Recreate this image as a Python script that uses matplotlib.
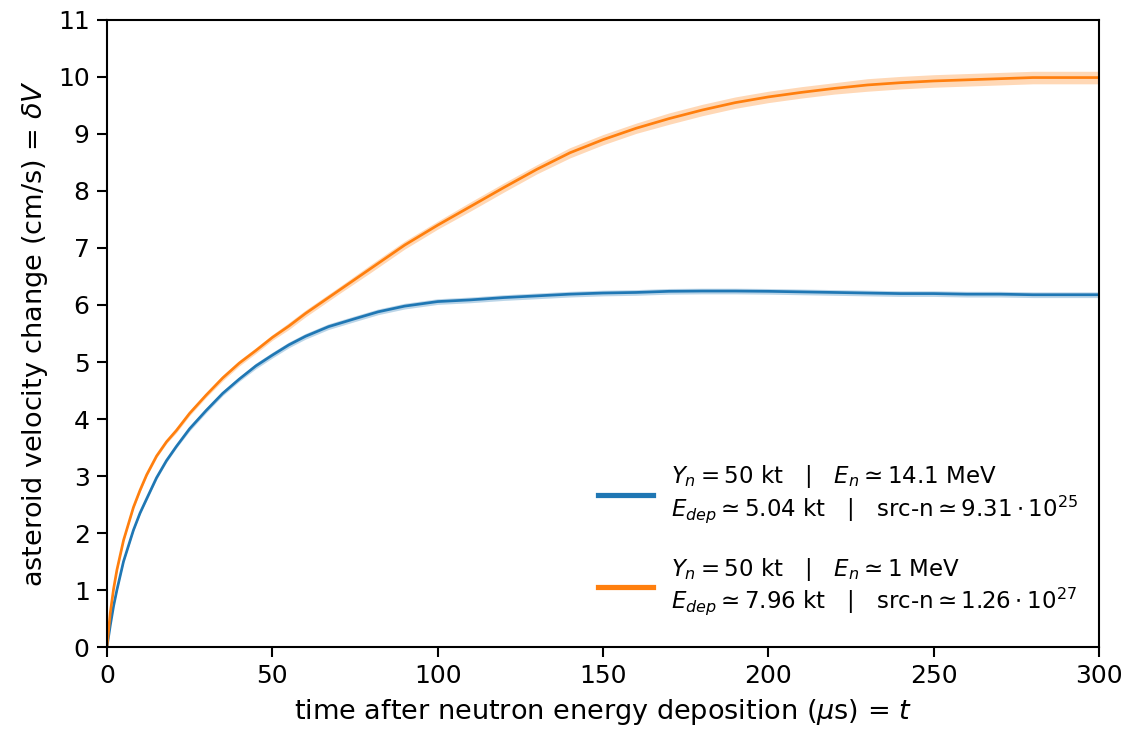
import numpy as np
import matplotlib
matplotlib.use("Agg")
import matplotlib.pyplot as plt
from matplotlib.lines import Line2D

t_blue = [0, 1, 2, 3, 5, 8, 10, 12, 15, 18, 21, 25, 30, 35, 40, 45, 50, 55, 60, 67, 75,
          82, 90, 100, 110, 120, 130, 140, 150, 160, 170, 180, 190, 200, 210, 220, 230,
          240, 250, 260, 270, 280, 290, 300]
v_blue = [0, 0.38, 0.72, 1.0, 1.5, 2.05, 2.35, 2.6, 2.97, 3.27, 3.52, 3.83, 4.15, 4.45, 4.7,
          4.93, 5.12, 5.3, 5.45, 5.62, 5.76, 5.88, 5.98, 6.06, 6.09, 6.13, 6.16, 6.19, 6.21,
          6.22, 6.24, 6.245, 6.245, 6.24, 6.23, 6.22, 6.21, 6.2, 6.2, 6.19, 6.19, 6.18,
          6.18, 6.18]
e_blue = [0, 0.01, 0.01, 0.02, 0.02, 0.02, 0.02, 0.03, 0.03, 0.03, 0.03, 0.04, 0.04, 0.04,
          0.04, 0.05, 0.05, 0.05, 0.05, 0.05, 0.05, 0.05, 0.05, 0.05, 0.05, 0.05, 0.05, 0.05,
          0.05, 0.05, 0.05, 0.05, 0.05, 0.05, 0.05, 0.05, 0.05, 0.05, 0.05, 0.05, 0.05, 0.05,
          0.05, 0.05]

t_orange = [0, 1, 2, 3, 5, 8, 10, 12, 15, 18, 21, 25, 30, 35, 40, 45, 50, 55, 60, 70, 80,
            90, 100, 110, 120, 130, 140, 150, 160, 170, 180, 190, 200, 210, 220, 230, 240,
            250, 260, 270, 280, 290, 300]
v_orange = [0, 0.6, 1.02, 1.35, 1.87, 2.45, 2.75, 3.02, 3.35, 3.6, 3.8, 4.1, 4.42, 4.72, 4.98,
            5.2, 5.43, 5.63, 5.85, 6.25, 6.65, 7.05, 7.4, 7.73, 8.06, 8.38, 8.67, 8.9, 9.1,
            9.27, 9.42, 9.55, 9.65, 9.73, 9.8, 9.86, 9.9, 9.93, 9.95, 9.97, 9.99, 9.99, 9.99]
e_orange = [0, 0.01, 0.01, 0.02, 0.02, 0.02, 0.03, 0.03, 0.03, 0.03, 0.04, 0.04, 0.04, 0.05,
            0.05, 0.05, 0.05, 0.06, 0.06, 0.06, 0.07, 0.07, 0.07, 0.08, 0.08, 0.08, 0.09,
            0.09, 0.09, 0.1, 0.1, 0.1, 0.1, 0.1, 0.1, 0.11, 0.11, 0.11, 0.11, 0.11, 0.11,
            0.11, 0.11]

labels = [
    r"$Y_n = 50$ kt   |   $E_n \simeq 14.1$ MeV" "\n"
    r"$E_{dep} \simeq 5.04$ kt   |   src-n$\simeq 9.31 \cdot 10^{25}$",
    r"$Y_n = 50$ kt   |   $E_n \simeq 1$ MeV" "\n"
    r"$E_{dep} \simeq 7.96$ kt   |   src-n$\simeq 1.26 \cdot 10^{27}$",
]
colors = ["#1f77b4", "#ff7f0e"]

fig = plt.figure(figsize=(1132 / 150, 732 / 150), dpi=150)
ax = fig.add_axes([0.0945, 0.1161, 0.8763, 0.8566])

series = [(t_blue, v_blue, e_blue), (t_orange, v_orange, e_orange)]
for (t, v, e), c in zip(series, colors):
    t = np.array(t); v = np.array(v); e = np.array(e)
    ax.fill_between(t, v - e, v + e, color=c, alpha=0.3, linewidth=0)
    ax.plot(t, v, color=c, linewidth=1.3)

ax.set_xlim(0, 300)
ax.set_ylim(0, 11)
ax.set_xticks(np.arange(0, 301, 50))
ax.set_yticks(np.arange(0, 12, 1))
ax.set_xlabel(r"time after neutron energy deposition ($\mu$s) = $t$", fontsize=13)
ax.set_ylabel(r"asteroid velocity change (cm/s) = $\delta V$", fontsize=13)
ax.tick_params(labelsize=12, length=4.8, width=1)
for s in ax.spines.values():
    s.set_linewidth(1)

handles = [Line2D([0], [0], color=c, linewidth=2.5) for c in colors]
leg = ax.legend(handles, labels, loc="lower right", frameon=False, fontsize=11,
                labelspacing=1.35, handlelength=2.4, bbox_to_anchor=(1.0, 0.015))
for txt in leg.get_texts():
    txt.set_linespacing(1.12)

fig.savefig("out.png", dpi=150)
